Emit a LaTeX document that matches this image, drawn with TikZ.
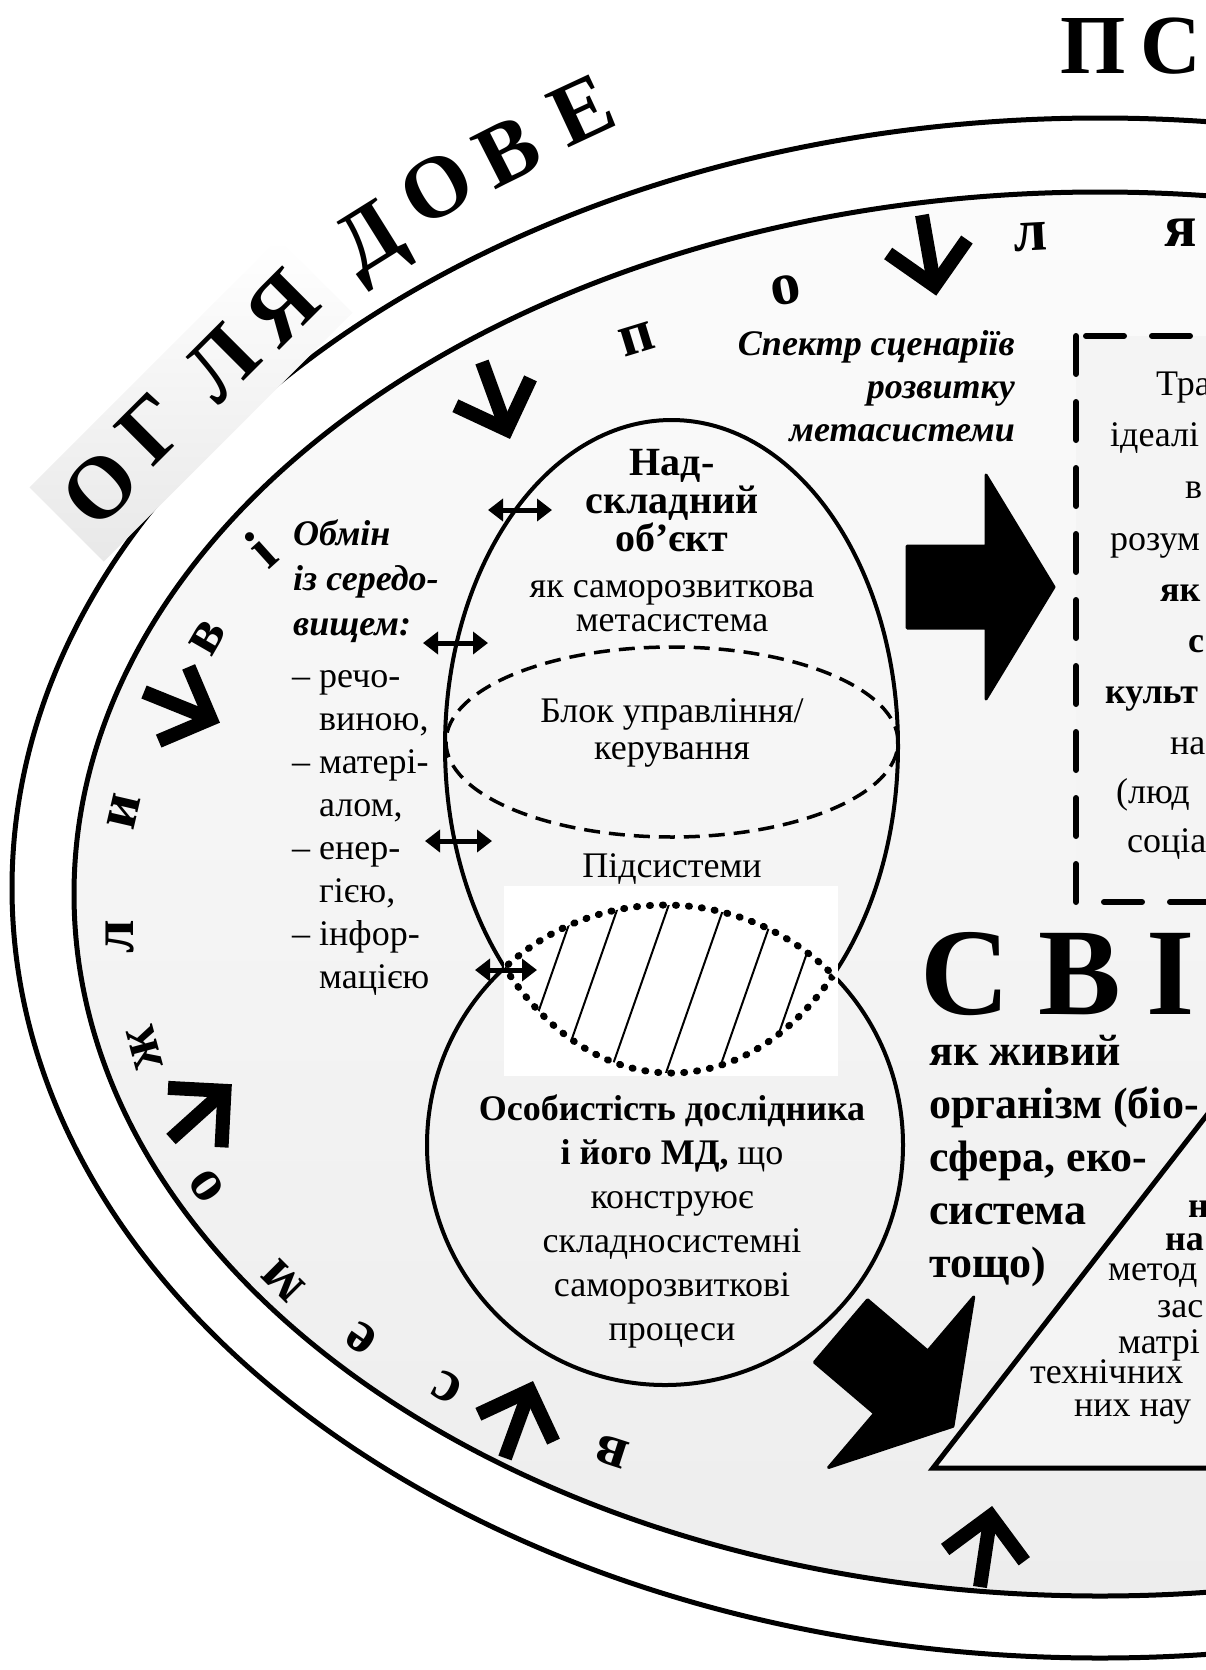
\documentclass[tikz,border=0pt]{standalone}
\usepackage{fontspec}
\setmainfont{Liberation Serif}
\usetikzlibrary{arrows.meta}

\definecolor{bgtop}{gray}{0.985}
\definecolor{bgbot}{gray}{0.93}
\definecolor{boxfill}{gray}{0.955}

\tikzset{
  inarrow/.pic = {
    \draw[line width=14pt] (0,0) -- (68,0);
    \draw[line width=14pt] (32,-40) -- (72,0) -- (32,40);
  },
  bigarrow/.pic = {
    \filldraw[line width=3pt, line join=round]
      (0,-41) -- (79,-41) -- (79,-112) -- (147,0) -- (79,112) -- (79,41) -- (0,41) -- cycle;
  }
}

\begin{document}
\begin{tikzpicture}[x=1pt, y=-1pt,
    ring/.style = {line width=5pt},
    ltr/.style = {font=\fontsize{88}{88}\selectfont\bfseries, inner sep=0pt},
    rl/.style = {font=\fontsize{60}{60}\selectfont\bfseries, inner sep=0pt},
    title/.style = {font=\fontsize{40}{38}\selectfont\bfseries, align=center, inner sep=0pt},
    body/.style = {font=\fontsize{36}{44}\selectfont, align=center, inner sep=0pt},
    frag/.style = {font=\fontsize{36}{36}\selectfont, anchor=base west, inner sep=0pt},
    huge/.style = {font=\fontsize{124}{124}\selectfont\bfseries, anchor=base west, inner sep=0pt, text depth=0pt},
    xch/.style = {line width=5pt, {Triangle[length=15pt,width=22pt]}-{Triangle[length=15pt,width=22pt]}},
    dots/.style = {line width=7pt, line cap=round, dash pattern=on 1pt off 12pt},
    boxline/.style = {line width=6pt, line cap=round, dash pattern=on 38pt off 28pt}]

\path[use as bounding box] (0,0) rectangle (1206,1670);
\clip (0,0) rectangle (1206,1670);

\draw[ring, fill=white] (1100,888) ellipse [x radius=1088pt, y radius=770pt];
\shade[top color=bgtop, bottom color=bgbot] (1100,894) ellipse [x radius=1026pt, y radius=702pt];
\draw[ring] (1100,894) ellipse [x radius=1026pt, y radius=702pt];

\node[rotate=45, minimum width=352pt, minimum height=105pt, inner sep=0pt,
      top color=white, bottom color=gray!18] (band) at (191,400) {};
\node[ltr, rotate=45] (o1) at (100,488) {О};
\node[ltr, rotate=45] (g1) at (152,428) {Г};
\node[ltr, rotate=45] (l1) at (222,363) {Л};
\node[ltr, rotate=45] (ya1) at (282,308) {Я};
\node[ltr, rotate=32] (d1) at (373,245) {Д};
\node[ltr, rotate=30] (o2) at (437,188) {О};
\node[ltr, rotate=27] (v1) at (508,152) {В};
\node[ltr, rotate=25] (e1) at (582,110) {Е};
\node[ltr, font=\fontsize{84}{84}\selectfont\bfseries, anchor=base] (p1) at (1093,74) {П};
\node[ltr, font=\fontsize{84}{84}\selectfont\bfseries, anchor=base west] (s1) at (1140,74) {С};

\node[rl, rotate=17] (rp) at (637,339) {п};
\node[rl, rotate=10] (ro) at (786,290) {о};
\node[rl, rotate=3] (rl) at (1031,237) {л};
\node[rl] (rya) at (1181,233) {я};
\node[rl, rotate=42] (ri) at (261,549) {і};
\node[rl, rotate=60] (rv) at (208,638) {в};
\node[rl, rotate=77] (ry) at (124,812) {и};
\node[rl, rotate=90] (rl2) at (120,937) {л};
\node[rl, rotate=105] (rzh) at (145,1048) {ж};
\node[rl, rotate=125] (ro2) at (207,1186) {о};
\node[rl, rotate=135] (rm) at (283,1281) {м};
\node[rl, rotate=145] (re) at (362,1338) {е};
\node[rl, rotate=152] (rs) at (447,1387) {с};
\node[rl, rotate=162] (rv2) at (612,1452) {в};

\pic[rotate=-80] at (922,215) {inarrow};
\pic[rotate=-70] at (482,362) {inarrow};
\pic[rotate=-22] at (144,692) {inarrow};
\pic[rotate=42] at (171,1139) {inarrow};
\pic[rotate=70] at (505,1458) {inarrow};
\pic[rotate=81.5] at (980,1587) {inarrow};

\draw[line width=4pt] (671.5,746.5) ellipse [x radius=226.5pt, y radius=326.5pt];
\draw[line width=4pt] (665,1145) ellipse [x radius=238pt, y radius=240pt];
\draw[line width=3.5pt, dash pattern=on 16pt off 9pt] (672,742) ellipse [x radius=226pt, y radius=95pt];
\fill[white] (504,886) rectangle (838,1076);
\begin{scope}
  \clip (671.5,746.5) ellipse [x radius=226.5pt, y radius=326.5pt];
  \clip (665,1145) ellipse [x radius=238pt, y radius=240pt];
  \foreach \x in {546,589,639,695,747,794}
    \draw[line width=2pt] (\x+35,890) -- (\x-35,1090);
\end{scope}
\begin{scope}
  \clip (671.5,746.5) ellipse [x radius=226.5pt, y radius=326.5pt];
  \draw[dots] (665,1145) ellipse [x radius=238pt, y radius=240pt];
\end{scope}
\begin{scope}
  \clip (665,1145) ellipse [x radius=238pt, y radius=240pt];
  \draw[dots] (671.5,746.5) ellipse [x radius=226.5pt, y radius=326.5pt];
\end{scope}

\node[title, anchor=base] (nad) at (672,551) {Над-\\складний\\об’єкт};
\node[body, font=\fontsize{36}{34}\selectfont, anchor=base] (sam) at (672,631) {як саморозвиткова\\метасистема};
\node[body, font=\fontsize{36}{37}\selectfont, anchor=base] (blok) at (672,759) {Блок управління/\\керування};
\node[body, anchor=base] (pid) at (672,877) {Підсистеми};
\node[body, anchor=base] (os) at (672,1340) {\textbf{Особистість дослідника}\\\textbf{і його МД,} що\\конструює\\складносистемні\\саморозвиткові\\процеси};

\node[body, font=\fontsize{36}{45}\selectfont\bfseries\itshape, align=left, anchor=base west] (obm) at (293,635) {Обмін\\із середо-\\вищем:};
\node[body, font=\fontsize{36}{43}\selectfont, align=left, anchor=base west] (env) at (292,988)
  {– речо-\\\phantom{– }виною,\\– матері-\\\phantom{– }алом,\\– енер-\\\phantom{– }гією,\\– інфор-\\\phantom{– }мацією};

\coordinate (xa1) at (488,510); \coordinate (xb1) at (552,510);
\coordinate (xa2) at (423,643); \coordinate (xb2) at (488,643);
\coordinate (xa3) at (425,841); \coordinate (xb3) at (492,841);
\coordinate (xa4) at (475,970); \coordinate (xb4) at (537,970);
\foreach \i in {1,...,4}
  \draw[xch] (xa\i) -- (xb\i);

\node[body, font=\fontsize{36}{43}\selectfont\bfseries\itshape, align=right, anchor=base east] (spek) at (1015,441) {Спектр сценаріїв\\розвитку\\метасистеми};

\pic at (907,587) {bigarrow};
\pic[rotate=-40.4] at (841,1331) {bigarrow};

\draw[boxline, fill=boxfill] (1076,336) rectangle (1260,902);
\foreach \x/\y/\t [count=\i] in {1156/395/Тра, 1110/446/ідеалі, 1185/498/в, 1110/550/розум,
    1160/601/\textbf{як}, 1188/652/\textbf{с}, 1105/703/\textbf{культ}, 1170/754/на,
    1116/803/(люд, 1127/852/соціа}
  \node[frag] (b\i) at (\x,\y) {\t};

\node[huge] (c1) at (920,1014) {С};
\node[huge] (c2) at (1038,1014) {В};
\node[huge] (c3) at (1146,1014) {І};

\filldraw[line width=5pt, fill=boxfill] (933,1468) -- (1300,995) -- (1300,1468) -- cycle;
\foreach \x/\y/\t [count=\i] in {1188/1217/\textbf{н}, 1165/1250/\textbf{на}, 1108/1280/метод,
    1157/1317/зас, 1118/1353/матрі, 1030/1383/технічних, 1074/1416/них нау}
  \node[frag] (t\i) at (\x,\y) {\t};

\node[font=\fontsize{44}{53}\selectfont\bfseries, align=left, anchor=base west, inner sep=0pt] (zhyv) at (929,1277)
  {як живий\\організм (біо-\\сфера, еко-\\система\\тощо)};

\end{tikzpicture}
\end{document}
